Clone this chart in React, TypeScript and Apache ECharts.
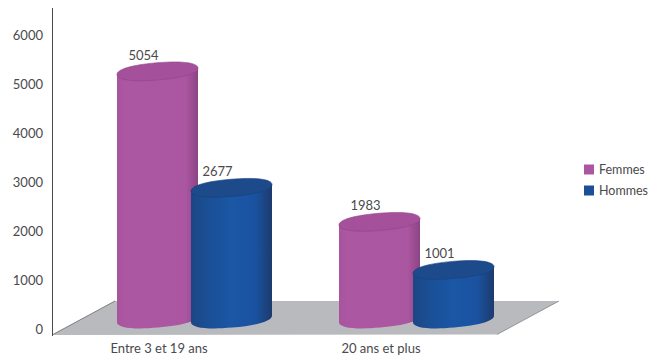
import React, { useEffect, useRef } from "react";
import * as echarts from "echarts";

const categories = ["Entre 3 et 19 ans", "20 ans et plus"];
const femmes = [5054, 1983];
const hommes = [2677, 1001];
const yTicks = { min: 0, max: 6000, interval: 1000 };
const FONT = "Lato";
const TEXT = "#4a4a4c";

const RX = 40.5, RY = 8.6, TILT_DY = 3.4, LIFT = -10, K = 0.62;

function cylinder(offset: number, body: any[], top: string, edge: string) {
  return (params: any, api: any) => {
    const i = api.value(0);
    const v = api.value(1);
    const p = api.coord([i, v]);
    const base = api.coord([i, 0]);
    const cx = p[0] + offset;
    const ty = p[1] + LIFT;
    const by = base[1] + LIFT;
    const R = Math.hypot(RX, TILT_DY);
    // semi-axes of the tilted ellipse
    const ax = RX, ay = -TILT_DY;
    const bx = (TILT_DY / R) * RY, by2 = (RX / R) * RY;
    const pt = (x: number, y: number) => `${x.toFixed(2)} ${y.toFixed(2)}`;
    const lowerHalf = (cy: number) => {
      const Lx = cx - ax, Ly = cy - ay, Bx = cx + bx, By = cy + by2, Rx = cx + ax, Ry = cy + ay;
      return `C ${pt(Lx + K * bx, Ly + K * by2)} ${pt(Bx - K * ax, By - K * ay)} ${pt(Bx, By)} C ${pt(Bx + K * ax, By + K * ay)} ${pt(Rx + K * bx, Ry + K * by2)} ${pt(Rx, Ry)}`;
    };
    const upperHalf = (cy: number) => {
      const Lx = cx - ax, Ly = cy - ay, Tx = cx - bx, Ty = cy - by2, Rx = cx + ax, Ry = cy + ay;
      return `C ${pt(Rx - K * bx, Ry - K * by2)} ${pt(Tx + K * ax, Ty + K * ay)} ${pt(Tx, Ty)} C ${pt(Tx - K * ax, Ty - K * ay)} ${pt(Lx - K * bx, Ly - K * by2)} ${pt(Lx, Ly)}`;
    };
    const d = `M ${pt(cx - ax, ty - ay)} L ${pt(cx - ax, by - ay)} ${lowerHalf(by)} L ${pt(cx + ax, ty + ay)} Z`;
    const t = `M ${pt(cx - ax, ty - ay)} ${lowerHalf(ty)} ${upperHalf(ty)} Z`;
    return {
      type: "group",
      children: [
        {
          type: "path",
          shape: { pathData: d },
          style: {
            fill: new echarts.graphic.LinearGradient(0, 0, 1, 0, body),
            stroke: null,
          },
        },
        {
          type: "path",
          shape: { pathData: t },
          style: { fill: top, stroke: edge, lineWidth: 0.6 },
        },
        {
          type: "text",
          style: {
            text: String(v),
            x: cx - 14,
            y: ty - 16.5,
            align: "center",
            verticalAlign: "middle",
            font: `13px ${FONT}`,
            fill: TEXT,
          },
        },
      ],
    };
  };
}

const pinkBody = [
  { offset: 0, color: "#a8539d" },
  { offset: 0.1, color: "#ac57a1" },
  { offset: 0.85, color: "#ab56a0" },
  { offset: 0.93, color: "#9a4c91" },
  { offset: 1, color: "#8c4484" },
];
const blueBody = [
  { offset: 0, color: "#1c4685" },
  { offset: 0.2, color: "#1a4f95" },
  { offset: 0.5, color: "#1a57a5" },
  { offset: 0.8, color: "#1a52a0" },
  { offset: 0.92, color: "#1c4480" },
  { offset: 1, color: "#1c3a6e" },
];

export default function App() {
  const ref = useRef<HTMLDivElement>(null);
  useEffect(() => {
    const chart = echarts.init(ref.current!, null, { renderer: "svg" });
    chart.setOption({
      animation: false,
      backgroundColor: "#ffffff",
      grid: { left: 48, top: 35, width: 444, height: 294 },
      legend: {
        orient: "vertical",
        left: 579,
        top: 158,
        itemWidth: 10,
        itemHeight: 10,
        itemGap: 8,
        icon: "rect",
        data: ["Femmes", "Hommes"],
        textStyle: { fontFamily: FONT, fontSize: 12.5, color: TEXT },
      },
      xAxis: {
        type: "category",
        data: categories,
        axisLine: { show: false },
        axisTick: { show: false },
        axisLabel: { fontFamily: FONT, fontSize: 13, color: TEXT, margin: 12 },
      },
      yAxis: {
        type: "value",
        min: yTicks.min,
        max: yTicks.max,
        interval: yTicks.interval,
        axisLine: { show: false },
        axisTick: { show: false },
        splitLine: { show: false },
        axisLabel: {
          fontFamily: FONT,
          fontSize: 13,
          color: TEXT,
          margin: 5,
          formatter: (v: number) => String(v),
        },
      },
      graphic: [
        {
          type: "polygon",
          z: 0,
          shape: { points: [[52, 335], [115, 301], [559, 301], [497, 334.5]] },
          style: { fill: "#b9babd" },
        },
        { type: "line", z: 1, shape: { x1: 52, y1: 335, x2: 115, y2: 301 }, style: { stroke: "#55565a", lineWidth: 0.7 } },
        { type: "line", z: 1, shape: { x1: 497, y1: 334.5, x2: 559, y2: 301 }, style: { stroke: "#77787c", lineWidth: 0.7 } },
        { type: "line", z: 1, shape: { x1: 52.5, y1: 8, x2: 52.5, y2: 336 }, style: { stroke: "#4a4a4c", lineWidth: 1 } },
      ],
      series: [
        {
          name: "Femmes",
          type: "custom",
          itemStyle: { color: "#ab56a0" },
          renderItem: cylinder(-1.5, pinkBody, "#a4509a", "#8f4688"),
          data: femmes.map((v, i) => [i, v]),
          z: 3,
        },
        {
          name: "Hommes",
          type: "custom",
          itemStyle: { color: "#1c4f96" },
          renderItem: cylinder(72.5, blueBody, "#1d4a8b", "#1b3f78"),
          data: hommes.map((v, i) => [i, v]),
          z: 4,
        },
      ],
    });
    return () => chart.dispose();
  }, []);
  return <div ref={ref} style={{ position: "fixed", left: 0, top: 0, width: 648, height: 358 }} />;
}
